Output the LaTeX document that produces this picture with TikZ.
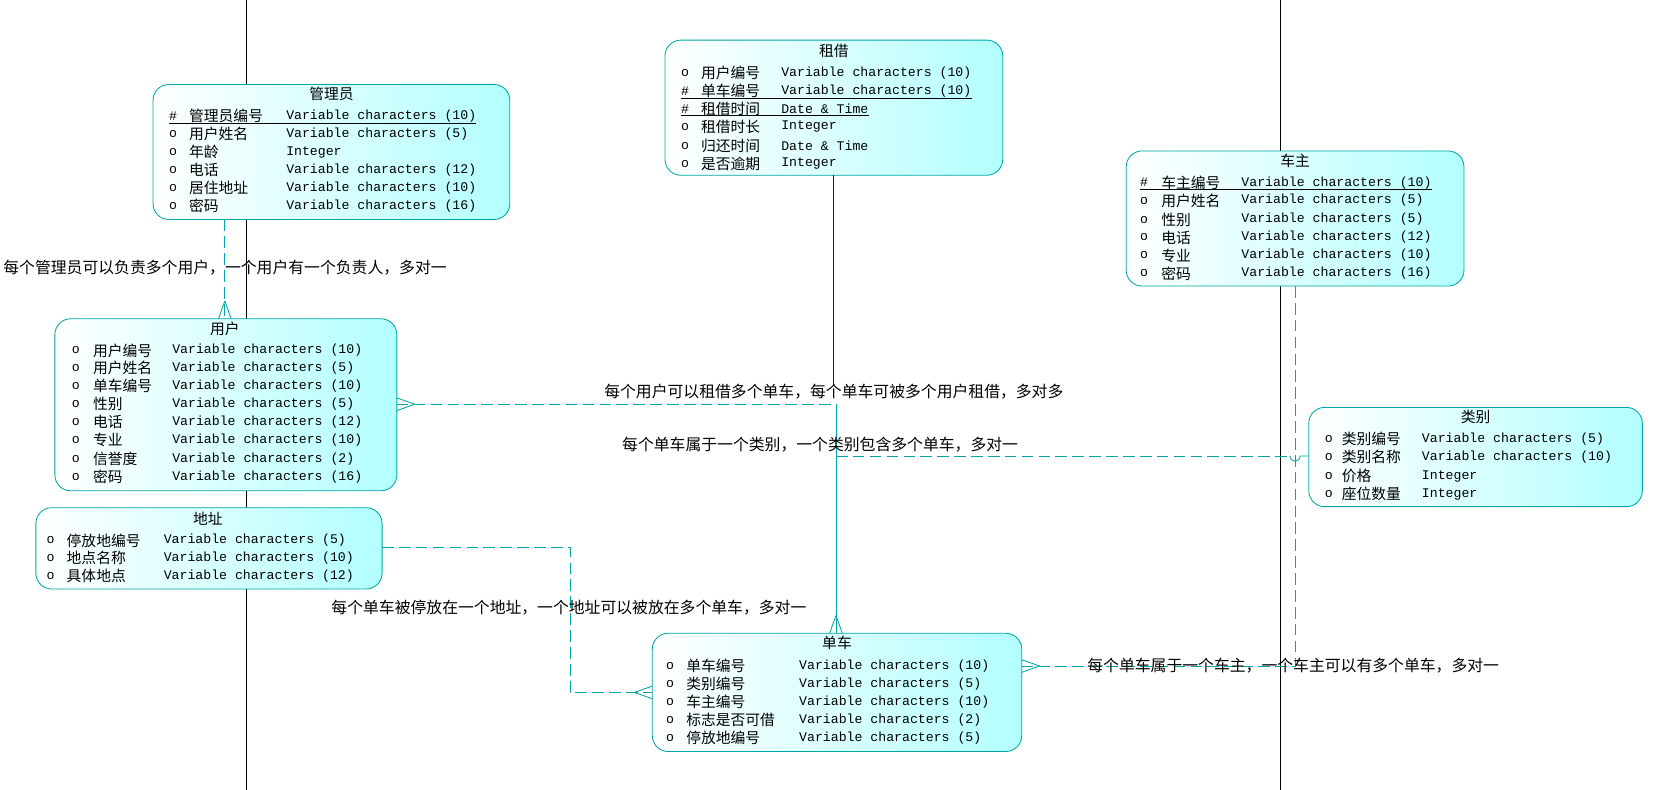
\documentclass[tikz,border=0pt]{standalone}
\usepackage{fontspec}
\setmonofont{Liberation Mono}
\newfontfamily\cjk{Noto Sans CJK SC}
\begin{document}
\newcounter{rr}
\newcommand\erow[7]{\stepcounter{rr}%
 \node[mono,anchor=west] (m\therr) at (#1,#4) {#5};
 \node[cj,anchor=west] (n\therr) at (#2,#4) {#6};
 \node[mono,anchor=west] (t\therr) at (#3,#4) {#7};}
\newcommand\keyline{\draw[black,line width=0.5pt] (m\therr.west |- n\therr.south) -- (t\therr.east |- n\therr.south);}
\begin{tikzpicture}[x=1pt,y=-1pt,
 ent/.style={draw=teal!70!cyan,line width=0.8pt,rounded corners=15pt,left color=white,right color=cyan!30},
 mono/.style={font=\ttfamily\fontsize{12.5}{14}\selectfont,inner sep=0pt},
 cj/.style={font=\cjk\fontsize{14}{16}\selectfont,inner sep=0pt},
 lab/.style={font=\cjk\fontsize{15}{16}\selectfont,inner sep=0pt},
 rel/.style={draw=teal!70!cyan,line width=0.8pt,dash pattern=on 11pt off 5pt},
 crow/.style={draw=teal!70!cyan,line width=0.8pt}]
\useasboundingbox (0,0) rectangle (1568,748);
\fill[white] (0,0) rectangle (1568,748);
\draw[black,line width=0.8pt] (233,0) -- (233,748) (1213,0) -- (1213,748);
% entities
\draw[ent] (145,80) rectangle (483,208);
\node[cj] (tg) at (314,89) {管理员};
\erow{160}{179}{271}{110}{\#}{管理员编号}{Variable characters (10)}\keyline
\erow{160}{179}{271}{127}{o}{用户姓名}{Variable characters (5)}
\erow{160}{179}{271}{144}{o}{年龄}{Integer}
\erow{160}{179}{271}{161}{o}{电话}{Variable characters (12)}
\erow{160}{179}{271}{178}{o}{居住地址}{Variable characters (10)}
\erow{160}{179}{271}{195}{o}{密码}{Variable characters (16)}
\draw[ent] (630,38) rectangle (950,166);
\node[cj] (tz) at (790,48) {租借};
\erow{645}{664}{740}{69}{o}{用户编号}{Variable characters (10)}
\erow{645}{664}{740}{86}{\#}{单车编号}{Variable characters (10)}\keyline
\erow{645}{664}{740}{103}{\#}{租借时间}{Date \& Time}\keyline
\erow{645}{664}{740}{120}{o}{租借时长}{Integer}
\erow{645}{664}{740}{138}{o}{归还时间}{Date \& Time}
\erow{645}{664}{740}{155}{o}{是否逾期}{Integer}
\draw[ent] (1067,143) rectangle (1387,271);
\node[cj] (tc) at (1227,152) {车主};
\erow{1080}{1100}{1176}{173}{\#}{车主编号}{Variable characters (10)}\keyline
\erow{1080}{1100}{1176}{190}{o}{用户姓名}{Variable characters (5)}
\erow{1080}{1100}{1176}{208}{o}{性别}{Variable characters (5)}
\erow{1080}{1100}{1176}{225}{o}{电话}{Variable characters (12)}
\erow{1080}{1100}{1176}{242}{o}{专业}{Variable characters (10)}
\erow{1080}{1100}{1176}{259}{o}{密码}{Variable characters (16)}
\draw[ent] (52,302) rectangle (376,465);
\node[cj] (tu) at (213,312) {用户};
\erow{68}{88}{163}{332}{o}{用户编号}{Variable characters (10)}
\erow{68}{88}{163}{349}{o}{用户姓名}{Variable characters (5)}
\erow{68}{88}{163}{366}{o}{单车编号}{Variable characters (10)}
\erow{68}{88}{163}{383}{o}{性别}{Variable characters (5)}
\erow{68}{88}{163}{400}{o}{电话}{Variable characters (12)}
\erow{68}{88}{163}{417}{o}{专业}{Variable characters (10)}
\erow{68}{88}{163}{435}{o}{信誉度}{Variable characters (2)}
\erow{68}{88}{163}{452}{o}{密码}{Variable characters (16)}
\draw[ent] (34,481) rectangle (362,558);
\node[cj] (td) at (197,491) {地址};
\erow{44}{63}{155}{512}{o}{停放地编号}{Variable characters (5)}
\erow{44}{63}{155}{529}{o}{地点名称}{Variable characters (10)}
\erow{44}{63}{155}{546}{o}{具体地点}{Variable characters (12)}
\draw[ent] (1240,386) rectangle (1556,480);
\node[cj] (tl) at (1398,395) {类别};
\erow{1255}{1271}{1347}{416}{o}{类别编号}{Variable characters (5)}
\erow{1255}{1271}{1347}{433}{o}{类别名称}{Variable characters (10)}
\erow{1255}{1271}{1347}{451}{o}{价格}{Integer}
\erow{1255}{1271}{1347}{468}{o}{座位数量}{Integer}
\draw[ent] (618,600) rectangle (968,712);
\node[cj] (tb) at (793,609) {单车};
\erow{631}{650}{757}{631}{o}{单车编号}{Variable characters (10)}
\erow{631}{650}{757}{648}{o}{类别编号}{Variable characters (5)}
\erow{631}{650}{757}{665}{o}{车主编号}{Variable characters (10)}
\erow{631}{650}{757}{682}{o}{标志是否可借}{Variable characters (2)}
\erow{631}{650}{757}{699}{o}{停放地编号}{Variable characters (5)}
% connectors
\coordinate (j1) at (792,383);
\draw[blue,line width=0.8pt] (790,166) -- (790,365);
\draw[rel] (213,208) -- (213,302);
\draw[crow] (213,285) -- (207,302) (213,285) -- (219,302);
\draw[rel] (376,383) -- (j1);
\draw[crow] (393,383) -- (376,377) (393,383) -- (376,389);
\draw[crow] (j1) -- (792,600);
\draw[crow] (792,583) -- (786,600) (792,583) -- (798,600);
\draw[rel] (792,432) -- (1222,432);
\draw[crow] (1222,432) arc (180:0:5) -- (1240,432);
\draw[rel] (362,519) -- (540,519) -- (540,656) -- (618,656);
\draw[crow] (601,656) -- (618,650) (601,656) -- (618,662);
\draw[rel] (1227,271) -- (1227,631) -- (968,631);
\draw[crow] (985,631) -- (968,625) (985,631) -- (968,637);
% labels
\node[lab,anchor=west] (l1) at (3,254) {每个管理员可以负责多个用户，一个用户有一个负责人，多对一};
\node[lab] (l2) at (790,371) {每个用户可以租借多个单车，每个单车可被多个用户租借，多对多};
\node[lab] (l3) at (777,421) {每个单车属于一个类别，一个类别包含多个单车，多对一};
\node[lab] (l4) at (539,576) {每个单车被停放在一个地址，一个地址可以被放在多个单车，多对一};
\node[lab,anchor=west] (l5) at (1030,631) {每个单车属于一个车主，一个车主可以有多个单车，多对一};
\end{tikzpicture}
\end{document}
